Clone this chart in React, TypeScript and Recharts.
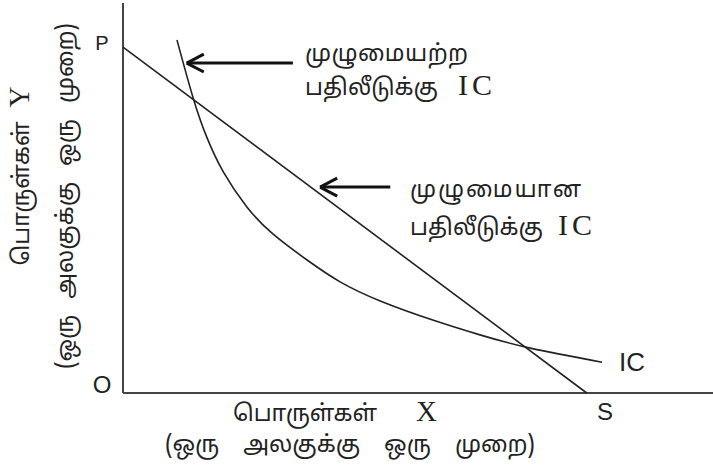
import React from 'react';
import { LineChart, Line, XAxis, YAxis, ReferenceLine } from 'recharts';

// budget line P -> S
const budgetX = [0, 78.6];
const budgetY = [88.7, 0];

// indifference curve (IC)
const icX = [9.15, 11.9, 14.2, 17.0, 21.0, 25.4, 31.2, 36.8, 43.6, 52.5, 60.5, 69.0, 81.2];
const icY = [90.5, 75.6, 65.6, 56.7, 47.7, 40.8, 34.1, 28.5, 23.6, 18.7, 14.9, 11.5, 7.9];

// annotation arrows: tip and tail (x), shared y
const arrowTipX = [10.8, 33.4];
const arrowTailX = [28.8, 45.3];
const arrowY = [84.6, 52.8];

const labelTop = ['முழுமையற்ற', 'முழுமையான'];
const labelBottom = ['பதிலீடுக்கு', 'பதிலீடுக்கு'];
const xTitle = ['பொருள்கள்', '(ஒரு அலகுக்கு ஒரு முறை)'];
const yTitle = ['பொருள்கள்', '(ஒரு அலகுக்கு ஒரு முறை)'];

const budgetData = budgetX.map((x, i) => ({ x, y: budgetY[i] }));
const icData = icX.map((x, i) => ({ x, y: icY[i] }));

const INK = '#222';
const tamil = '"Noto Sans Tamil", "Lohit Tamil", "Latha", "Noto Sans", sans-serif';
const serif = '"Liberation Serif", "Times New Roman", serif';
const sans = '"Liberation Sans", Arial, sans-serif';
const TS = 23;

const App: React.FC = () => {
  return (
    <div style={{ position: 'fixed', left: 0, top: 0, width: 713, height: 465, background: '#fff' }}>
      <LineChart width={713} height={465} margin={{ top: 3, right: 0, left: 123, bottom: 72 }}>
        <XAxis type="number" dataKey="x" domain={[0, 100]} hide />
        <YAxis type="number" dataKey="y" domain={[0, 100]} hide />
        <ReferenceLine x={0} stroke="#444" strokeWidth={2} />
        <ReferenceLine y={0} stroke="#444" strokeWidth={2} />
        <Line
          data={budgetData}
          dataKey="y"
          type="linear"
          stroke={INK}
          strokeWidth={1.6}
          dot={false}
          isAnimationActive={false}
        />
        <Line
          data={icData}
          dataKey="y"
          type="natural"
          stroke={INK}
          strokeWidth={1.6}
          dot={false}
          isAnimationActive={false}
        />
        {arrowTipX.map((tx, i) => (
          <React.Fragment key={i}>
            <ReferenceLine
              segment={[{ x: tx, y: arrowY[i] }, { x: arrowTailX[i], y: arrowY[i] }]}
              stroke="#111"
              strokeWidth={3}
            />
            <ReferenceLine
              segment={[{ x: tx, y: arrowY[i] }, { x: tx + 2.9, y: arrowY[i] + 2.3 }]}
              stroke="#111"
              strokeWidth={3}
            />
            <ReferenceLine
              segment={[{ x: tx, y: arrowY[i] }, { x: tx + 2.9, y: arrowY[i] - 2.3 }]}
              stroke="#111"
              strokeWidth={3}
            />
          </React.Fragment>
        ))}

        <g fill={INK}>
          <text x={305} y={61} fontFamily={tamil} fontSize={TS} letterSpacing={0.5}>{labelTop[0]}</text>
          <text x={305} y={95} fontFamily={tamil} fontSize={TS}>
            {labelBottom[0]}
            <tspan fontFamily={serif} fontSize={30} x={458} letterSpacing={4}>IC</tspan>
          </text>
          <text x={410} y={197} fontFamily={tamil} fontSize={TS} letterSpacing={2}>{labelTop[1]}</text>
          <text x={410} y={235} fontFamily={tamil} fontSize={TS}>
            {labelBottom[1]}
            <tspan fontFamily={serif} fontSize={30} x={558} letterSpacing={4}>IC</tspan>
          </text>

          <text x={102} y={50} textAnchor="middle" fontFamily={sans} fontSize={20}>P</text>
          <text x={102} y={393} textAnchor="middle" fontFamily={sans} fontSize={24}>O</text>
          <text x={605} y={420} textAnchor="middle" fontFamily={sans} fontSize={24}>S</text>
          <text x={619} y={371} fontFamily={sans} fontSize={26}>IC</text>

          <text x={233} y={421} fontFamily={tamil} fontSize={TS}>
            {xTitle[0]}
            <tspan fontFamily={serif} fontSize={29} x={416}>X</tspan>
          </text>
          <text x={350} y={452} textAnchor="middle" fontFamily={tamil} fontSize={TS} wordSpacing={18}>
            {xTitle[1]}
          </text>

          <text x={0} y={0} transform="translate(29,176) rotate(-90)" textAnchor="middle" fontFamily={tamil} fontSize={TS}>
            {yTitle[0]}
            <tspan fontFamily={serif} fontSize={29} dx={14}>Y</tspan>
          </text>
          <text x={0} y={0} transform="translate(73,196) rotate(-90)" textAnchor="middle" fontFamily={tamil} fontSize={TS} wordSpacing={10}>
            {yTitle[1]}
          </text>
        </g>
      </LineChart>
    </div>
  );
};

export default App;
